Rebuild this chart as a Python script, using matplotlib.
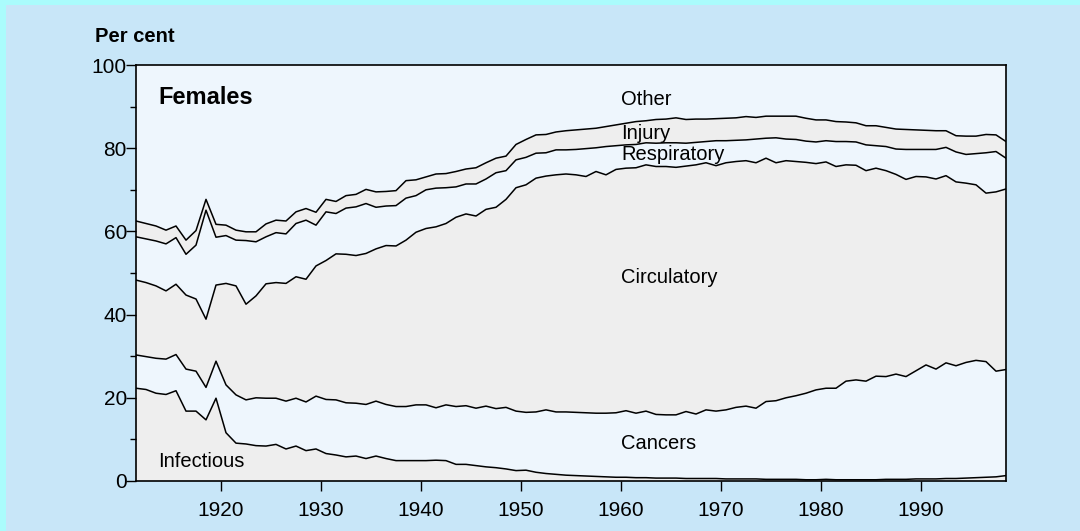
import numpy as np
import matplotlib
matplotlib.use('Agg')
import matplotlib.pyplot as plt
from matplotlib.patches import Rectangle

plt.rcParams['font.family'] = ['Liberation Sans', 'DejaVu Sans']

# --- Data: cumulative per cent of female deaths, 1911-1998 ---
years = np.arange(1911, 1999)

infectious_top = [
    22.3, 22.0, 21.1, 20.8, 21.7, 16.8, 16.8, 14.7, 19.9, 11.6,
    9.1, 8.9, 8.5, 8.4, 8.8, 7.7, 8.4, 7.3, 7.7, 6.6,
    6.25, 5.8, 6.0, 5.4, 6.0, 5.4, 4.9, 4.9, 4.9, 4.9,
    5.0, 4.9, 4.0, 4.0, 3.7, 3.4, 3.2, 2.9, 2.5, 2.6,
    2.1, 1.8, 1.6, 1.4, 1.3, 1.2, 1.1, 1.0, 0.9, 0.9,
    0.8, 0.8, 0.7, 0.7, 0.7, 0.6, 0.6, 0.6, 0.6, 0.5,
    0.5, 0.5, 0.5, 0.4, 0.4, 0.4, 0.4, 0.3, 0.3, 0.4,
    0.3, 0.3, 0.3, 0.3, 0.3, 0.4, 0.4, 0.4, 0.5, 0.5,
    0.5, 0.6, 0.6, 0.7, 0.8, 0.9, 1.0, 1.3]

cancers_top = [
    30.3, 29.9, 29.5, 29.3, 30.4, 26.9, 26.4, 22.5, 28.8, 23.1,
    20.7, 19.5, 20.0, 19.9, 19.9, 19.2, 19.9, 19.0, 20.4, 19.6,
    19.5, 18.8, 18.7, 18.4, 19.2, 18.4, 17.9, 17.9, 18.3, 18.3,
    17.6, 18.3, 17.9, 18.1, 17.5, 18.0, 17.4, 17.7, 16.8, 16.5,
    16.6, 17.1, 16.6, 16.6, 16.5, 16.4, 16.3, 16.3, 16.4, 16.9,
    16.3, 16.8, 16.0, 15.9, 15.9, 16.7, 16.1, 17.1, 16.8, 17.1,
    17.7, 18.0, 17.5, 19.1, 19.3, 20.0, 20.5, 21.1, 21.9, 22.3,
    22.3, 24.0, 24.3, 24.0, 25.2, 25.1, 25.7, 25.1, 26.5, 27.9,
    26.9, 28.4, 27.7, 28.5, 29.0, 28.7, 26.4, 26.8]

circulatory_top = [
    48.3, 47.7, 46.9, 45.7, 47.3, 44.7, 43.75, 38.9, 47.1, 47.5,
    46.9, 42.5, 44.5, 47.4, 47.7, 47.5, 49.1, 48.5, 51.7, 53.0,
    54.6, 54.5, 54.2, 54.7, 55.8, 56.6, 56.5, 57.9, 59.8, 60.7,
    61.1, 61.9, 63.4, 64.2, 63.7, 65.3, 65.8, 67.7, 70.5, 71.2,
    72.8, 73.3, 73.6, 73.8, 73.6, 73.2, 74.4, 73.6, 74.9, 75.2,
    75.3, 76.0, 75.6, 75.6, 75.4, 75.7, 76.0, 76.5, 75.8, 76.5,
    76.8, 77.0, 76.5, 77.6, 76.5, 77.0, 76.8, 76.6, 76.3, 76.7,
    75.6, 76.0, 75.9, 74.6, 75.2, 74.6, 73.7, 72.5, 73.2, 73.1,
    72.6, 73.4, 71.9, 71.6, 71.2, 69.2, 69.5, 70.2]

respiratory_top = [
    58.7, 58.2, 57.7, 57.0, 58.5, 54.5, 56.7, 65.1, 58.6, 59.0,
    57.9, 57.8, 57.5, 58.7, 59.7, 59.4, 61.9, 62.7, 61.5, 64.7,
    64.3, 65.6, 65.9, 66.7, 65.8, 66.1, 66.2, 68.0, 68.6, 70.0,
    70.4, 70.5, 70.7, 71.4, 71.4, 72.6, 74.1, 74.6, 77.2, 77.8,
    78.8, 78.9, 79.6, 79.6, 79.7, 79.9, 80.1, 80.4, 80.6, 80.8,
    80.9, 81.3, 81.2, 81.3, 81.3, 81.2, 81.4, 81.6, 81.8, 81.8,
    81.9, 82.0, 82.2, 82.4, 82.5, 82.2, 82.1, 81.7, 81.5, 81.8,
    81.6, 81.6, 81.5, 80.8, 80.6, 80.4, 79.8, 79.7, 79.7, 79.7,
    79.7, 80.2, 79.1, 78.5, 78.7, 78.9, 79.2, 77.6]

injury_top = [
    62.5, 61.9, 61.3, 60.3, 61.3, 57.9, 60.2, 67.7, 61.7, 61.5,
    60.3, 59.9, 59.9, 61.8, 62.7, 62.5, 64.7, 65.5, 64.6, 67.7,
    67.2, 68.6, 68.9, 70.1, 69.5, 69.6, 69.8, 72.2, 72.4, 73.1,
    73.8, 73.9, 74.4, 75.0, 75.3, 76.5, 77.6, 78.1, 80.9, 82.1,
    83.2, 83.3, 83.9, 84.2, 84.4, 84.6, 84.8, 85.2, 85.6, 86.0,
    86.4, 86.6, 86.9, 87.0, 87.3, 86.9, 87.0, 87.0, 87.1, 87.2,
    87.3, 87.6, 87.4, 87.7, 87.7, 87.7, 87.7, 87.2, 86.8, 86.8,
    86.4, 86.3, 86.1, 85.4, 85.4, 85.0, 84.6, 84.5, 84.4, 84.3,
    84.2, 84.2, 83.0, 82.9, 82.9, 83.3, 83.2, 81.6]

# --- Colours ---
outer_edge = '#aafcfc'
outer_bg = '#c8e6f8'
plot_bg = '#eef6fd'
grey = '#eeeeee'

fig = plt.figure(figsize=(10.8, 5.31), dpi=100, facecolor=outer_edge)
fig.patches.append(Rectangle((6 / 1080, 0), 1, 1 - 5 / 531,
                             transform=fig.transFigure, facecolor=outer_bg,
                             edgecolor='none', zorder=-5))

ax = fig.add_axes([136 / 1080, 1 - 481 / 531, 870 / 1080, 416 / 531])
ax.set_facecolor(plot_bg)

x = years + 0.5  # values plotted at mid-year
bounds = [np.zeros(len(years)), infectious_top, cancers_top, circulatory_top,
          respiratory_top, injury_top]
fills = [grey, plot_bg, grey, plot_bg, grey]
for i in range(5):
    ax.fill_between(x, bounds[i], bounds[i + 1], facecolor=fills[i],
                    edgecolor='none', zorder=1)
for b in bounds[1:]:
    ax.plot(x, b, color='black', lw=1.1, zorder=2)

ax.set_xlim(1911.5, 1998.5)
ax.set_ylim(0, 100)
ax.set_xticks([1920, 1930, 1940, 1950, 1960, 1970, 1980, 1990])
ax.set_yticks([0, 20, 40, 60, 80, 100])
ax.set_yticks([10, 30, 50, 70, 90], minor=True)
ax.tick_params(axis='both', which='major', direction='out', length=7,
               width=1, labelsize=15, colors='black')
ax.tick_params(axis='x', pad=7.5)
ax.tick_params(axis='y', pad=-0.5)
ax.tick_params(axis='y', which='minor', direction='out', length=4, width=1)
for s in ax.spines.values():
    s.set_linewidth(1.2)
    s.set_zorder(3)

# --- Labels ---
lab = dict(fontsize=14.5, va='center', ha='left', zorder=4)
ax.text(1960, 91.6, 'Other', **lab)
ax.text(1960, 83.6, 'Injury', **lab)
ax.text(1960, 78.6, 'Respiratory', **lab)
ax.text(1960, 49.0, 'Circulatory', **lab)
ax.text(1960, 9.0, 'Cancers', **lab)
ax.text(1913.7, 4.6, 'Infectious', **lab)
ax.text(1913.7, 92.3, 'Females', fontsize=17, fontweight='bold',
        va='center', ha='left', zorder=4)

fig.text(95 / 1080, 1 - 36 / 531, 'Per cent', fontsize=14.5,
         fontweight='bold', va='center', ha='left')

fig.savefig('out.png', dpi=100, facecolor=fig.get_facecolor())
